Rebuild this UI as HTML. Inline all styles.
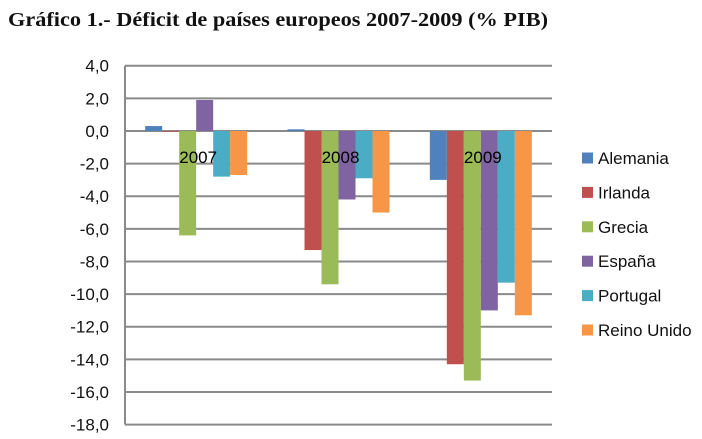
<!DOCTYPE html>
<html><head><meta charset="utf-8"><style>
body{margin:0;background:#fff;width:702px;height:434px;overflow:hidden}
svg text{font-family:"Liberation Sans",sans-serif}
</style></head><body>
<svg id="c" width="702" height="434" xmlns="http://www.w3.org/2000/svg">
<text x="8" y="26" style="font-family:'Liberation Serif',serif" font-weight="bold" font-size="20" textLength="540" lengthAdjust="spacingAndGlyphs" fill="#111">Gráfico 1.- Déficit de países europeos 2007-2009 (% PIB)</text>
</svg>
<script>
const years=["2007","2008","2009"];
const countries=["Alemania","Irlanda","Grecia","España","Portugal","Reino Unido"];
const alemania=[0.3,0.1,-3.0];
const irlanda=[0.0,-7.3,-14.3];
const grecia=[-6.4,-9.4,-15.3];
const espana=[1.9,-4.2,-11.0];
const portugal=[-2.8,-2.9,-9.3];
const reinoUnido=[-2.7,-5.0,-11.3];
const yTicks=[4,2,0,-2,-4,-6,-8,-10,-12,-14,-16,-18];
const series=[alemania,irlanda,grecia,espana,portugal,reinoUnido];
const colors=["#4F81BD","#C0504D","#9BBB59","#8064A2","#4BACC6","#F79646"];
const svg=document.getElementById('c');const NS="http://www.w3.org/2000/svg";
const L=125,R=552,T=65.7,B=424.6,ymax=4,ymin=-18;
const y=v=>T+(ymax-v)/(ymax-ymin)*(B-T);
const band=(R-L)/years.length,bw=17,pad=(band-bw*countries.length)/2;
function mk(t,a){const e=document.createElementNS(NS,t);for(const k in a)e.setAttribute(k,a[k]);svg.appendChild(e);return e;}
yTicks.forEach(v=>{
 const g=mk('line',{x1:L,x2:R,y1:y(v),y2:y(v),stroke:'#8a8a8a','stroke-width':2});
 
 
 const t=mk('text',{x:109,y:y(v)+6,'text-anchor':'end','font-size':17,fill:'#111'});
 t.textContent=v.toFixed(1).replace('.',',');
 
 
});
const ax=mk('line',{x1:L,x2:L,y1:T,y2:B,stroke:'#8a8a8a','stroke-width':2});


series.forEach((s,si)=>{s.forEach((v,gi)=>{
 const x=L+gi*band+pad+si*bw;const y0=y(0),y1=y(v);
 const r=mk('rect',{x:x,y:Math.min(y0,y1),width:bw,height:Math.max(Math.abs(y1-y0),0.8),fill:colors[si]});
 
 
});});
years.forEach((yr,gi)=>{
 const t=mk('text',{x:L+gi*band+band/2+2,y:163,'text-anchor':'middle','font-size':17,fill:'#000'});
 t.textContent=yr;
 
 
});
countries.forEach((c,i)=>{
 const yy=158+i*34.4;
 const r=mk('rect',{x:582,y:yy-5.5,width:11,height:11,fill:colors[i]});
 
 
 const t=mk('text',{x:598,y:yy+6,'font-size':17,fill:'#111'});
 t.textContent=c;
 
 
});
</script>
</body></html>
